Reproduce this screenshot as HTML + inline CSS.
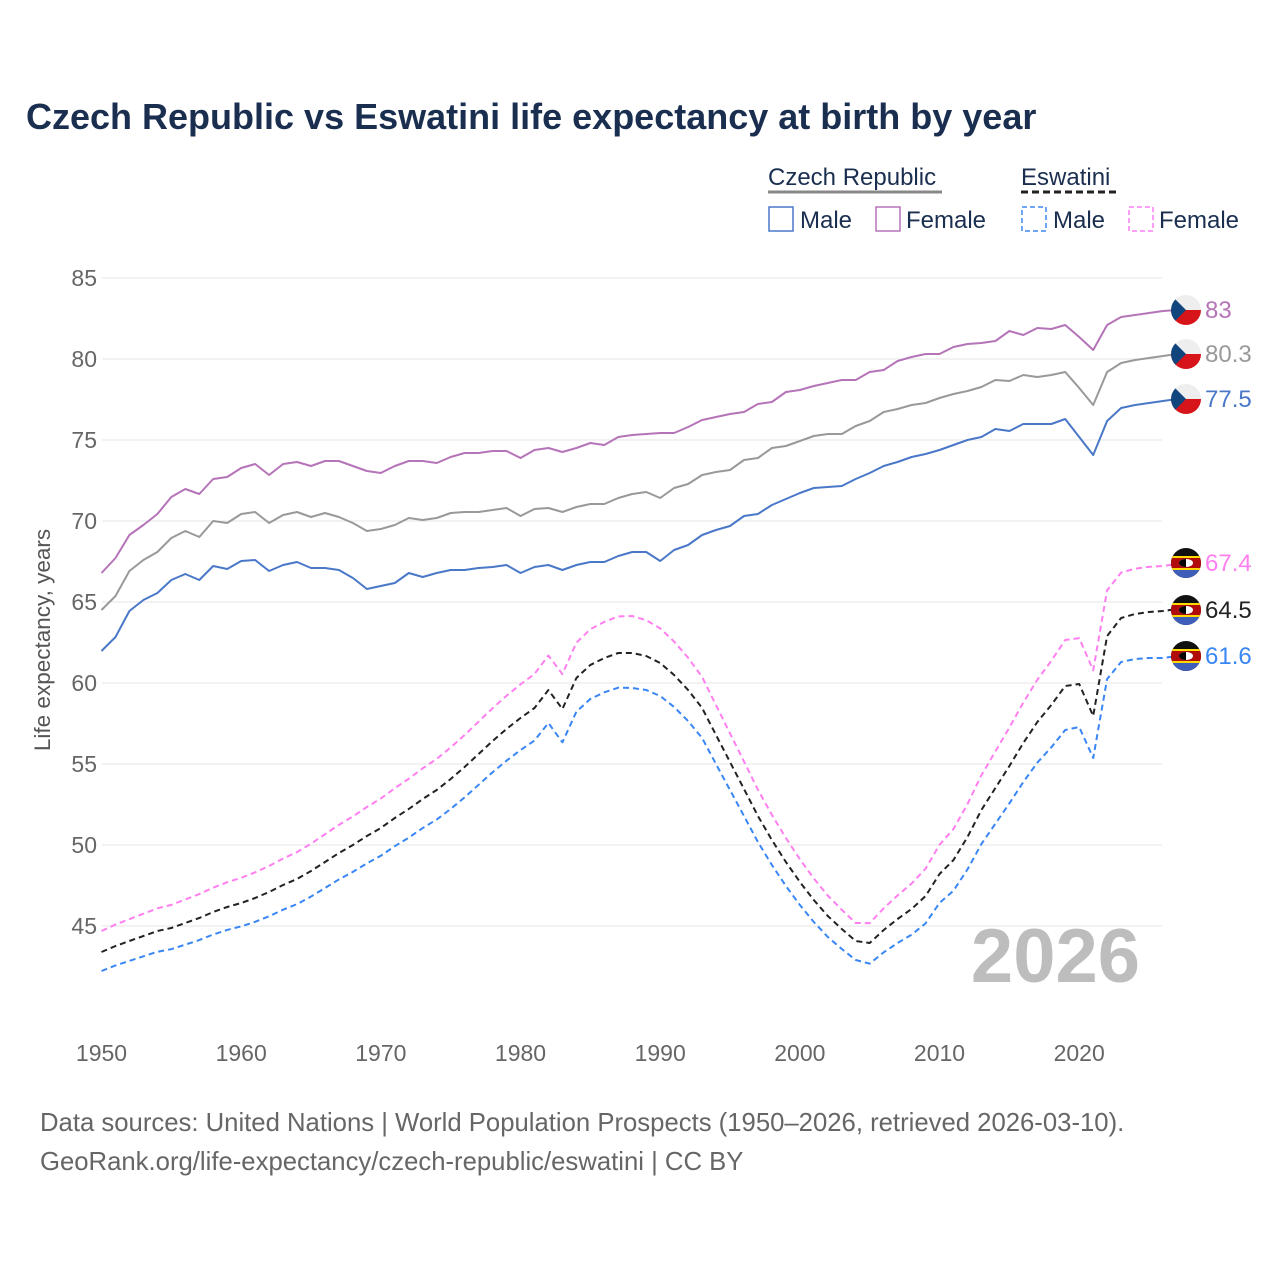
<!DOCTYPE html><html><head><style>body{margin:0;background:#fff}svg text{font-family:"Liberation Sans",sans-serif}</style></head><body>
<svg id="s" width="1280" height="1280" xmlns="http://www.w3.org/2000/svg">
<defs>
<clipPath id="c"><circle r="15"/></clipPath>
<g id="cz"><g clip-path="url(#c)"><rect x="-15" y="-15" width="30" height="15" fill="#eee"/><rect x="-15" y="0" width="30" height="15" fill="#d7141a"/><polygon points="-15,-15 0,0 -15,15" fill="#11457e"/></g></g>
<g id="sz"><g clip-path="url(#c)"><rect x="-15" y="-15" width="30" height="30" fill="#111"/><rect x="-15" y="-7" width="30" height="14" fill="#b10c0c"/><rect x="-15" y="-7" width="30" height="2" fill="#ffd900"/><rect x="-15" y="5" width="30" height="2" fill="#ffd900"/><rect x="-15" y="7" width="30" height="8" fill="#3e5eb9"/><ellipse rx="7" ry="4" fill="#fff"/><path d="M0,-4 A7,4 0 0 0 0,4 Z" fill="#000"/></g></g>
</defs>
<text x="26" y="129" font-size="36" font-weight="bold" fill="#1a2e4f">Czech Republic vs Eswatini life expectancy at birth by year</text>
<text x="768" y="185" font-size="24" fill="#1a2e4f">Czech Republic</text>
<line x1="768" y1="192" x2="942" y2="192" stroke="#888" stroke-width="3"/>
<text x="1021" y="185" font-size="24" fill="#1a2e4f">Eswatini</text>
<line x1="1021" y1="192" x2="1118" y2="192" stroke="#222" stroke-width="3" stroke-dasharray="7,4"/>
<rect x="769" y="207" width="24" height="24" fill="none" stroke="#4a78c8" stroke-width="1.5"/><text x="800" y="228" font-size="24" fill="#1a2e4f">Male</text>
<rect x="876" y="207" width="24" height="24" fill="none" stroke="#b574b8" stroke-width="1.5"/><text x="906" y="228" font-size="24" fill="#1a2e4f">Female</text>
<rect x="1022" y="207" width="24" height="24" fill="none" stroke="#3a86f5" stroke-width="1.5" stroke-dasharray="5,3"/><text x="1053" y="228" font-size="24" fill="#1a2e4f">Male</text>
<rect x="1129" y="207" width="24" height="24" fill="none" stroke="#ff7ff0" stroke-width="1.5" stroke-dasharray="5,3"/><text x="1159" y="228" font-size="24" fill="#1a2e4f">Female</text>
<g id="grid"></g>
<text x="0" y="0" transform="translate(50,640) rotate(-90)" font-size="22.5" fill="#555" text-anchor="middle">Life expectancy, years</text>
<text x="1140" y="982" font-size="76" font-weight="bold" fill="#bdbdbd" text-anchor="end">2026</text>
<g id="lines"></g>
<text x="40" y="1131" font-size="25.7" fill="#666">Data sources: United Nations | World Population Prospects (1950–2026, retrieved 2026-03-10).</text>
<text x="40" y="1170" font-size="25.7" fill="#666">GeoRank.org/life-expectancy/czech-republic/eswatini | CC BY</text>
</svg>
<script>
var NS="http://www.w3.org/2000/svg",g=document.getElementById("grid"),L=document.getElementById("lines");
function el(p,t,a,x){var e=document.createElementNS(NS,t);for(var k in a)e.setAttribute(k,a[k]);if(x!=null)e.textContent=x;p.appendChild(e);return e;}
for(var v=45;v<=85;v+=5){var y=278+(85-v)*16.2;el(g,"line",{x1:102,x2:1162,y1:y,y2:y,stroke:"#e6e6e6","stroke-width":1});el(g,"text",{x:97,y:y+8,"font-size":23,fill:"#666","text-anchor":"end"},v);}
for(var yr=1950;yr<=2020;yr+=10){var x=101.5+(yr-1950)*13.967;el(g,"text",{x:x,y:1061,"font-size":23,fill:"#666","text-anchor":"middle"},yr);}
function X(i){return 101.5+i*13.967;}
var male=[651,637,611,600,593,580,574,580,566,569,561,560,571,565,562,568,568,570,578,589,586,583,573,577,573,570,570,568,567,565,573,567,565,570,565,562,562,556,552,552,561,550,545,535,530,526,516,514,505,499,493,488,487,486,479,473,466,462,457,454,450,445,440,437,429,431,424,424,424,419,437,455,421,408,405,403,401,399];
var grey=[610,596,571,560,552,538,531,537,521,523,514,512,523,515,512,517,513,517,523,531,529,525,518,520,518,513,512,512,510,508,516,509,508,512,507,504,504,498,494,492,498,488,484,475,472,470,460,458,448,446,441,436,434,434,426,421,412,409,405,403,398,394,391,387,380,381,375,377,375,372,388,405,372,363,360,358,356,354];
var fem=[573,558,535,525,514,497,489,494,479,477,468,464,475,464,462,466,461,461,466,471,473,466,461,461,463,457,453,453,451,451,458,450,448,452,448,443,445,437,435,434,433,433,427,420,417,414,412,404,402,392,390,386,383,380,380,372,370,361,357,354,354,347,344,343,341,331,335,328,329,325,337,350,325,317,315,313,311,310];
var blk=[952,946,941,936,931,928,923,918,912,907,903,898,892,885,879,871,862,853,845,836,828,818,809,799,790,779,767,754,741,729,718,708,690,709,678,665,658,653,653,656,663,675,690,708,735,762,789,816,840,862,882,900,916,929,941,943,930,919,909,896,874,860,837,810,788,766,743,722,705,686,684,716,636,618,614,612,611,609];
function interp(a,yr){for(var i=0;i<a.length-1;i++){if(yr>=a[i][0]&&yr<=a[i+1][0]){var t=(yr-a[i][0])/(a[i+1][0]-a[i][0]);return a[i][1]+t*(a[i+1][1]-a[i][1]);}}return a[a.length-1][1];}
var bd=[[1950,19],[1982,33],[1988,35],[2004,19],[2019,44],[2021,42],[2026,47]],pd=[[1950,-21],[1988,-37],[2004,-18],[2019,-46],[2026,-45]];
var blue=blk.map(function(v,i){return v+interp(bd,1950+i)}),pink=blk.map(function(v,i){return v+interp(pd,1950+i)});
function line(a,c,d){el(L,"polyline",{points:a.map(function(v,i){return X(i).toFixed(1)+","+v}).join(" "),fill:"none",stroke:c,"stroke-width":2,"stroke-dasharray":d||"none","stroke-linejoin":"round"});}
line(fem,"#b574b8");line(grey,"#999");line(male,"#4a78c8");
line(pink,"#ff7ff0","6,4");line(blk,"#222","6,4");line(blue,"#3a86f5","6,4");
[[310,"cz","83","#b574b8"],[354,"cz","80.3","#999"],[399,"cz","77.5","#4a78c8"],[563,"sz","67.4","#ff7ff0"],[610,"sz","64.5","#222"],[656,"sz","61.6","#3a86f5"]].forEach(function(f){
el(L,"use",{href:"#"+f[1],x:1186,y:f[0]});el(L,"text",{x:1205,y:f[0]+8,"font-size":24,fill:f[3]},f[2]);});
</script>
</body></html>
